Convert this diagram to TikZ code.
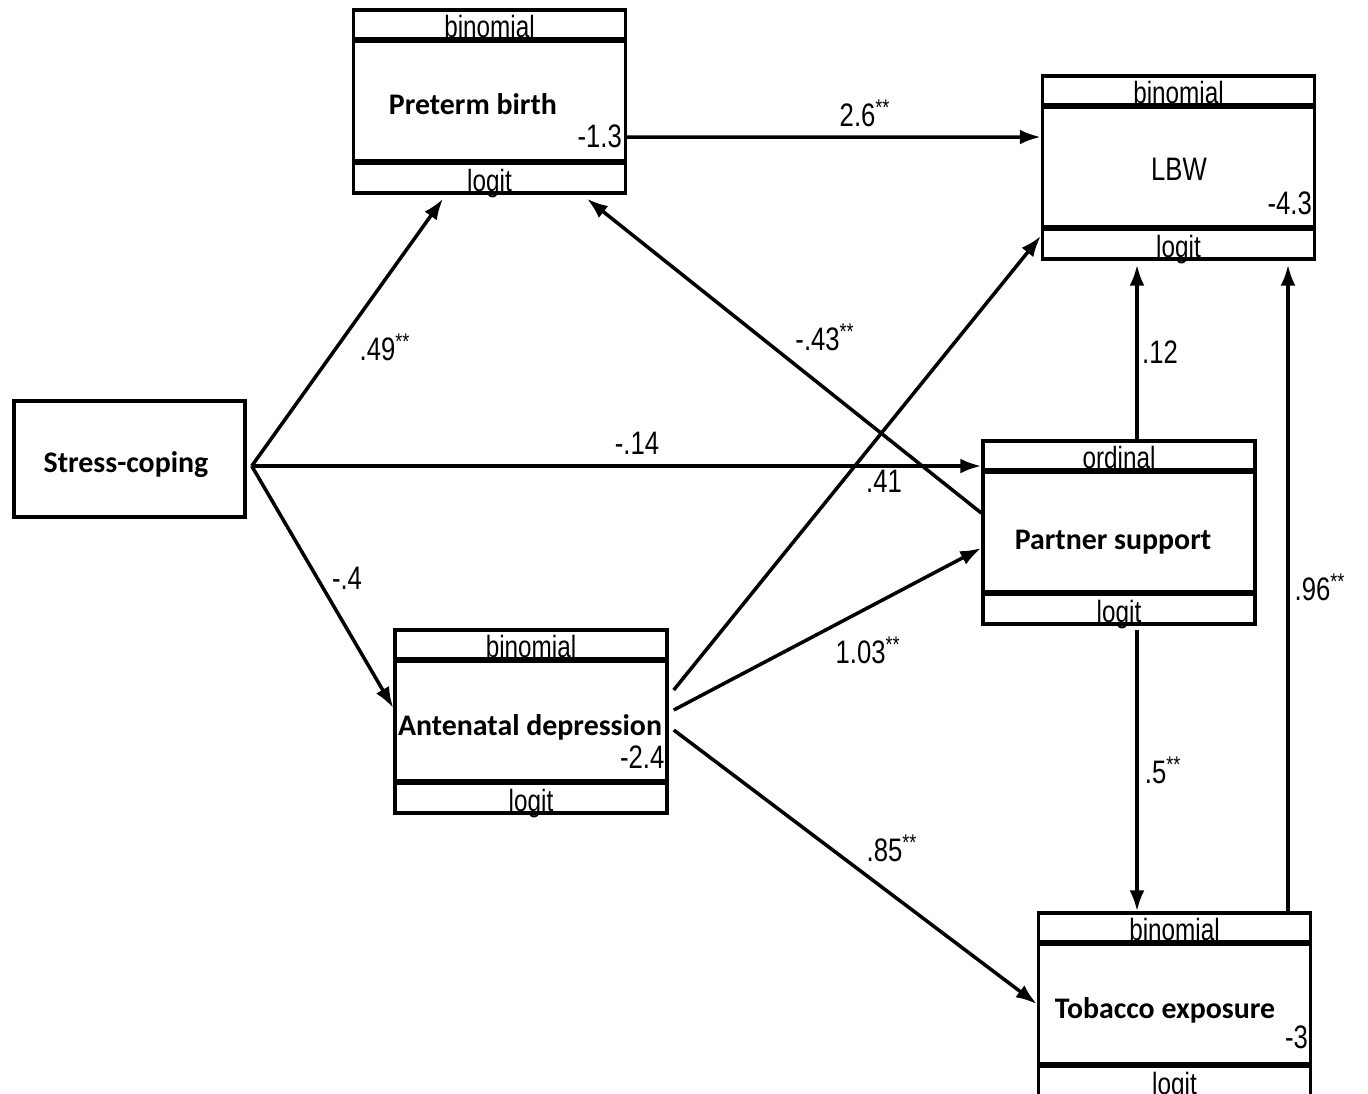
\documentclass[tikz,border=0pt]{standalone}
\usepackage{fontspec}
\setmainfont{Liberation Sans}
\newfontfamily\narrowfont{Liberation Sans}[FakeStretch=0.79]
\newfontfamily\namefont{Carlito}
\usetikzlibrary{arrows.meta,calc}

\tikzset{
    varbox/.style={draw, line width=2pt, minimum width=5.44cm, minimum height=3.66cm, inner sep=0pt},
    sepline/.style={line width=3.2pt},
    bandtext/.style={font=\narrowfont\fontsize{17.5}{20}\selectfont, inner sep=0pt},
    nametext/.style={font=\namefont\bfseries\fontsize{17}{20}\selectfont, inner sep=0pt},
    coef/.style={font=\narrowfont\fontsize{18.5}{20}\selectfont, inner sep=0pt},
    link/.style={line width=2pt, -{Latex[length=0.42cm,width=0.3cm]}}
}

\begin{document}
\begin{tikzpicture}[x=0.02cm, y=-0.02cm]
\useasboundingbox (0,0) rectangle (1368,1093);

% variable boxes
\node[draw, line width=2pt, minimum width=4.62cm, minimum height=2.32cm, inner sep=0pt] (stress) at (129.5,459) {};
\node[varbox] (pre) at (489.5,101.5) {};
\node[varbox] (lbw) at (1178.5,167.5) {};
\node[varbox] (ante) at (531,721.5) {};
\node[varbox] (part) at (1119,532.5) {};
\node[varbox] (tob) at (1174.5,1004.5) {};

\foreach \b/\fam in {pre/binomial, lbw/binomial, ante/binomial, part/ordinal, tob/binomial} {
    \draw[sepline] ($(\b.north west)+(0,32)$) -- ($(\b.north east)+(0,32)$);
    \draw[sepline] ($(\b.south west)+(0,-33)$) -- ($(\b.south east)+(0,-33)$);
    \node[bandtext, anchor=base] (\b-fam) at ($(\b.north)+(0,29.5)$) {\fam};
    \node[bandtext, anchor=base] (\b-link) at ($(\b.south)+(0,-3)$) {logit};
}

% names
\node[nametext, anchor=base] (stress-name) at (126,472) {Stress-coping};
\node[nametext, anchor=base] (pre-name) at (473,114) {Preterm birth};
\node[nametext, anchor=base, font=\narrowfont\fontsize{18.5}{20}\selectfont] (lbw-name) at (1179,180) {LBW};
\node[nametext, anchor=base] (ante-name) at (530,735) {Antenatal depression};
\node[nametext, anchor=base] (part-name) at (1113,549) {Partner support};
\node[nametext, anchor=base] (tob-name) at (1165,1018) {Tobacco exposure};

% intercepts
\node[coef, anchor=base east] (pre-c) at ($(pre.east)+(-5,46)$) {-1.3};
\node[coef, anchor=base east] (lbw-c) at ($(lbw.east)+(-4,46.5)$) {-4.3};
\node[coef, anchor=base east] (ante-c) at ($(ante.east)+(-4,46.5)$) {-2.4};
\node[coef, anchor=base east] (tob-c) at ($(tob.east)+(-4,43.5)$) {-3};

% paths
\coordinate (sc) at ($(stress.east)+(5,7)$);
\draw[link] (sc) -- ($(pre.south)+(-46.5,4)$);
\draw[link] (sc) -- ($(part.west)+(0,-66.5)$);
\draw[link] (sc) -- ($(ante.west)+(0,-13.5)$);
\draw[link] ($(pre.east)+(0,35.5)$) -- ($(lbw.west)+(0,-30.5)$);
\draw[link] ($(part.west)+(0,-19.5)$) -- ($(pre.south)+(97.5,4)$);
\draw[link] ($(ante.east)+(5,-31.5)$) -- ($(lbw.west)+(0,68.5)$);
\draw[link] ($(ante.east)+(5,-11.5)$) -- ($(part.west)+(0,15.5)$);
\draw[link] ($(ante.east)+(5,8.5)$) -- ($(tob.west)+(0,-0.5)$);
\draw[link] ($(part.north)+(18,0)$) -- ($(lbw.south)+(-41.5,4)$);
\draw[link] ($(part.south)+(18,4)$) -- ($(tob.north)+(-37.5,0)$);
\draw[link] ($(tob.north)+(113.5,0)$) -- ($(lbw.south)+(109.5,4)$);

% coefficients
\node[coef] (c1) at (385,347) {.49\textsuperscript{**}};
\node[coef] (c2) at (637,443) {-.14};
\node[coef] (c3) at (347,578) {-.4};
\node[coef] (c4) at (865,113) {2.6\textsuperscript{**}};
\node[coef] (c5) at (825,337) {-.43\textsuperscript{**}};
\node[coef] (c6) at (884,481) {.41};
\node[coef] (c7) at (868,650) {1.03\textsuperscript{**}};
\node[coef] (c8) at (892,848) {.85\textsuperscript{**}};
\node[coef] (c9) at (1160,352) {.12};
\node[coef] (c10) at (1163,770) {.5\textsuperscript{**}};
\node[coef] (c11) at (1320,587) {.96\textsuperscript{**}};
\end{tikzpicture}
\end{document}
